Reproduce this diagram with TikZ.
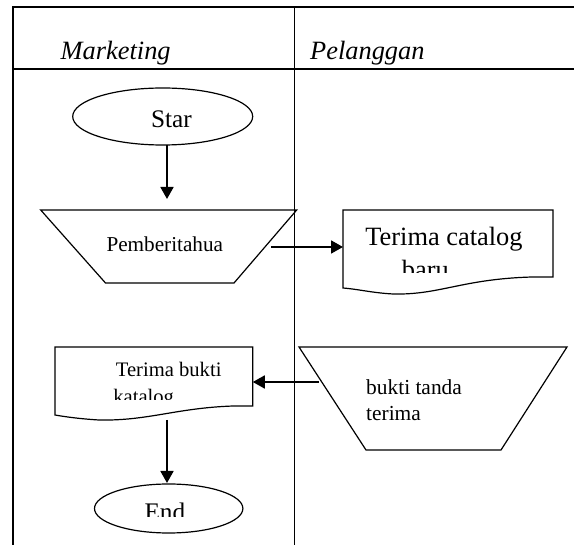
\documentclass[tikz,border=0pt]{standalone}
\usepackage{fontspec}
\setmainfont{Liberation Serif}
\usetikzlibrary{arrows.meta,shapes.geometric}
\begin{document}
\begin{tikzpicture}[x=1pt,y=-1pt,
  frame/.style={line width=1.8pt},
  flow/.style={line width=1.2pt},
  conn/.style={line width=1.8pt,-{Triangle[length=12pt,width=13pt]}},
  lbl/.style={inner sep=0pt,anchor=base},
  term/.style={draw,ellipse,line width=1.2pt,inner sep=0pt}]
\useasboundingbox (0,0) rectangle (574,545);
% frame
\draw[frame] (574,7) -- (13,7) -- (13,545);
\draw[frame] (294.5,7) -- (294.5,545);
\draw[frame] (13,69) -- (574,69);
\node[lbl,anchor=base west,font=\fontsize{26.4}{30}\selectfont\itshape] (hm) at (60.5,60) {Marketing};
\node[lbl,anchor=base west,font=\fontsize{26.4}{30}\selectfont\itshape] (hp) at (310,60) {Pelanggan};
% Star
\node[term,minimum width=180pt,minimum height=57pt] (star) at (162.7,116.5) {};
\node[lbl,font=\fontsize{25.3}{29}\selectfont] (startxt) at (171.4,128) {Star};
% Pemberitahua
\draw[flow] (40.7,210) -- (296.7,210) -- (234,283) -- (105.5,283) -- cycle;
\node[lbl,font=\fontsize{21.2}{25}\selectfont] (pem) at (164.8,252) {Pemberitahua};
% Terima catalog baru
\draw[flow] (343,210) -- (553,210) -- (553,277) -- (532,277)
  .. controls (462,279) and (440,295) .. (393.4,294)
  .. controls (373,293) and (357,289) .. (343,288) -- cycle;
\begin{scope}
  \clip (343,210) rectangle (553,273);
  \node[lbl,font=\fontsize{26.4}{30}\selectfont] (cat1) at (444,246) {Terima catalog};
  \node[lbl,font=\fontsize{26.4}{30}\selectfont] (cat2) at (425.3,279) {baru};
\end{scope}
% Terima bukti katalog
\draw[flow] (55,347) -- (252.8,347) -- (252.8,406) -- (233,406)
  .. controls (176,408) and (148,421) .. (99,420)
  .. controls (82,419) and (66,417) .. (55,415) -- cycle;
\begin{scope}
  \clip (55,347) rectangle (252.8,400);
  \node[lbl,font=\fontsize{20.6}{24}\selectfont] (tb1) at (168.7,377) {Terima bukti};
  \node[lbl,anchor=base west,font=\fontsize{20.6}{24}\selectfont] (tb2) at (113.2,404) {katalog};
\end{scope}
% bukti tanda terima
\draw[flow] (299,347) -- (567,347) -- (501,450) -- (366,450) -- cycle;
\node[lbl,anchor=base west,font=\fontsize{21.4}{25}\selectfont] (bt1) at (366,395) {bukti tanda};
\node[lbl,anchor=base west,font=\fontsize{21.4}{25}\selectfont] (bt2) at (366,421) {terima};
% End
\node[term,minimum width=148.4pt,minimum height=49pt] (end) at (168.7,508.5) {};
\begin{scope}
  \clip (94.5,484) rectangle (243,517);
  \node[lbl,font=\fontsize{25.3}{29}\selectfont] (endtxt) at (164.9,521) {End};
\end{scope}
% connectors
\coordinate (a1s) at (167,145);
\coordinate (a1e) at (167,199);
\coordinate (a2s) at (271.4,247);
\coordinate (a2e) at (343,247);
\coordinate (a3s) at (318.7,382);
\coordinate (a3e) at (252.8,382);
\coordinate (a4s) at (167,420);
\coordinate (a4e) at (167,483);
\draw[conn] (a1s) -- (a1e);
\draw[conn] (a2s) -- (a2e);
\draw[conn] (a3s) -- (a3e);
\draw[conn] (a4s) -- (a4e);
\end{tikzpicture}
\end{document}
